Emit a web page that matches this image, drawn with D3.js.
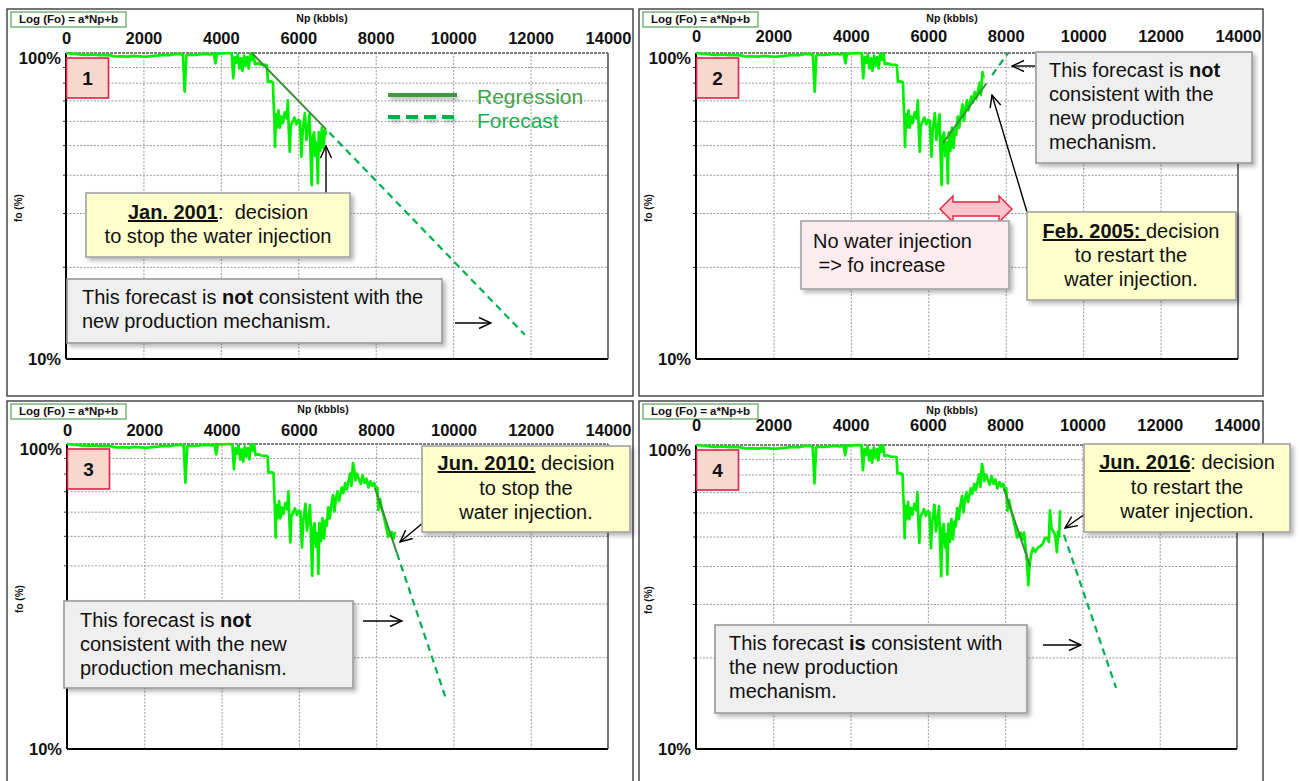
<!DOCTYPE html>
<html>
<head>
<meta charset="utf-8">
<script src="https://cdn.jsdelivr.net/npm/d3@7"></script>
<style>
  body { margin: 0; background: #fff; }
  svg { display: block; font-family: "Liberation Sans", Arial, sans-serif; }
</style>
</head>
<body>
<svg id="chart" width="1300" height="781"></svg>
<script>
// Cumulative oil production Np (kbbls) and oil fraction fo (%)
const npValues = [
  0, 120, 250, 400, 550, 700, 850, 1000, 1150, 1280, 1450, 1600, 1750, 1900, 2050, 2200, 2350, 2500, 2650, 2800,
  2950, 3020, 3065, 3110, 3200, 3320, 3450, 3600, 3720, 3820, 3860, 3900, 4050, 4200, 4280, 4320, 4360, 4400, 4440, 4480,
  4520, 4560, 4600, 4640, 4680, 4720, 4760, 4800, 4840, 4880, 4950, 5050, 5150, 5190, 5215, 5300, 5345, 5360, 5380, 5400,
  5420, 5445, 5465, 5490, 5520, 5560, 5600, 5650, 5700, 5730, 5755, 5780, 5805, 5850, 5900, 5950, 6000, 6040, 6080, 6115,
  6170, 6210, 6250, 6290, 6320, 6345, 6370, 6410, 6440, 6480, 6505, 6530, 6570, 6610, 6650, 6690, 6720, 6760, 6800, 6840,
  6885, 6920, 6960, 7000, 7040, 7080, 7110, 7150, 7200, 7240, 7290, 7330, 7360, 7400, 7430, 7460, 7500, 7550, 7600, 7650,
  7700, 7750, 7800, 7850, 7900, 7950, 8000, 8030, 8060, 8100, 8150, 8200, 8230, 8280, 8310, 8350, 8400, 8450, 8490, 8530,
  8566, 8600, 8630, 8670, 8720, 8780, 8850, 8920, 8980, 9030, 9100, 9130, 9160, 9200, 9250, 9300, 9340, 9370, 9400, 9420
];
const foValues = [
  100, 99.6, 99.3, 98.8, 98.6, 98.9, 98.4, 98.6, 98.2, 97.4, 97.6, 97.3, 97.8, 97.5, 97.2, 97.7, 98.0, 98.6, 98.3, 99.2,
  99.4, 98.6, 74.7, 98.3, 98.8, 98.5, 99.0, 99.3, 98.9, 99.5, 92.5, 99.6, 99.7, 100, 99.5, 82.7, 97, 93, 99, 89,
  96, 87.5, 98, 91, 97, 89, 99.6, 95, 99.8, 92, 92.5, 91.5, 91.5, 91, 80.6, 80.8, 80.2, 70, 62, 49.4,
  63, 57, 61, 65, 57, 62, 59, 64, 61, 70, 56, 47.6, 58, 59.5, 61.5, 58.5, 60.5, 60, 45.8, 56,
  63.6, 52, 57, 63, 46, 37, 53, 55, 46, 51, 37.5, 55, 48, 57, 49, 56, 54, 62, 57, 63,
  68, 60, 66, 70, 65, 69, 72, 69, 74.5, 71, 76, 80, 73, 86.6, 83, 76, 80, 77, 74, 79,
  74.5, 77, 72, 75.5, 73, 74.5, 70, 72, 60.8, 66, 61, 58, 55.5, 52, 49.6, 50.5, 51.5, 49, 51.5, 46,
  41.2, 34.6, 40, 43.5, 45.8, 44.5, 46, 46.5, 47.5, 49.4, 49.4, 48, 61, 53, 52, 50, 44.4, 52, 50, 61
];

// Last Np shown in each of the four snapshots
const panelEndNp = [6720, 7430, 8490, 9420];
const panelNumbers = ["1", "2", "3", "4"];

// Regression segments (solid) and forecasts (dashed): [start, end]
const regressionNp = [[4800, 6720], [6380, 7500], [7970, 8540], [7970, 8650]];
const regressionFo = [[100, 56.3], [50.8, 79.5], [71.7, 43.8], [71.7, 39.8]];
const forecastNp = [[6800, 11850], [7650, 8060], [8540, 9808], [9523, 10869]];
const forecastFo = [[55.0, 12.0], [84.7, 100], [43.8, 14.6], [50.6, 15.9]];

// Axis ticks
const xTickValues = [0, 2000, 4000, 6000, 8000, 10000, 12000, 14000];
const yGridValues = [20, 30, 40, 50, 60, 70, 80, 90];
const yLabelValues = [100, 10];
const yLabelTexts = ["100%", "10%"];

const legendLabels = ["Regression", "Forecast"];

// ---------------------------------------------------------------
const svg = d3.select("#chart");
const defs = svg.append("defs");

defs.append("filter").attr("id", "shadow")
  .attr("x", "-10%").attr("y", "-10%").attr("width", "130%").attr("height", "140%")
  .append("feDropShadow")
  .attr("dx", 3).attr("dy", 3).attr("stdDeviation", 2.2)
  .attr("flood-color", "#000").attr("flood-opacity", 0.28);

defs.append("filter").attr("id", "softShadow")
  .attr("x", "-20%").attr("y", "-50%").attr("width", "150%").attr("height", "250%")
  .append("feDropShadow")
  .attr("dx", 2).attr("dy", 3).attr("stdDeviation", 2)
  .attr("flood-color", "#000").attr("flood-opacity", 0.3);

defs.append("marker").attr("id", "head")
  .attr("viewBox", "0 0 14 14").attr("refX", 13).attr("refY", 7)
  .attr("markerWidth", 14).attr("markerHeight", 14)
  .attr("markerUnits", "userSpaceOnUse").attr("orient", "auto")
  .append("path").attr("d", "M1,1.5 L13,7 L1,12.5")
  .attr("fill", "none").attr("stroke", "#000").attr("stroke-width", 1.4);

const panels = [
  { frame: [7, 9, 626, 387],   plot: [66, 53, 542, 306],  labelPad: 9 },
  { frame: [639, 9, 624, 387], plot: [696, 53, 542, 306], labelPad: 11 },
  { frame: [7, 401, 626, 395], plot: [67, 444, 541, 305], labelPad: 8 },
  { frame: [639, 401, 624, 395], plot: [696, 445, 541, 304], labelPad: 14 }
];

const dataPoints = npValues.map((np, i) => ({ np, fo: foValues[i] }));

panels.forEach((p, k) => {
  const [fx, fy, fw, fh] = p.frame;
  const [px, py, pw, ph] = p.plot;
  const g = svg.append("g");

  // panel frame
  g.append("rect").attr("x", fx).attr("y", fy).attr("width", fw).attr("height", fh)
    .attr("fill", "#fff").attr("stroke", "#3c3c3c").attr("stroke-width", 1.4);

  // equation box
  g.append("rect").attr("x", fx + 4).attr("y", fy + 3).attr("width", 115).attr("height", 15)
    .attr("fill", "#fff").attr("stroke", "#6fb06f").attr("stroke-width", 1.4);
  g.append("text").attr("x", fx + 61.5).attr("y", fy + 14).attr("text-anchor", "middle")
    .attr("font-size", 11.5).attr("font-weight", "bold").attr("fill", "#111")
    .text("Log (Fo) = a*Np+b");

  const x = d3.scaleLinear().domain([0, 14000]).range([px, px + pw]);
  const y = d3.scaleLog().domain([10, 100]).range([py + ph, py]);

  // axis titles
  g.append("text").attr("x", px + 256).attr("y", py - 31).attr("text-anchor", "middle")
    .attr("font-size", 10.5).attr("font-weight", "bold").attr("fill", "#111").text("Np (kbbls)");
  g.append("text").attr("transform", `translate(${px - 44},${py + 155}) rotate(-90)`)
    .attr("text-anchor", "middle").attr("font-size", 10).attr("font-weight", "bold")
    .attr("fill", "#111").text("fo (%)");

  // vertical grid
  const vGrid = g.append("g").attr("transform", `translate(0,${py + ph})`)
    .call(d3.axisBottom(x).tickValues(xTickValues.slice(1, -1)).tickSize(-ph).tickFormat(""));
  vGrid.select(".domain").remove();
  vGrid.selectAll("line").attr("stroke", "#9a9a9a").attr("stroke-dasharray", "2,1.5");

  // horizontal grid
  const hGrid = g.append("g").attr("transform", `translate(${px},0)`)
    .call(d3.axisLeft(y).tickValues(yGridValues).tickSize(-pw).tickFormat(""));
  hGrid.select(".domain").remove();
  hGrid.selectAll("line").attr("stroke", "#9a9a9a").attr("stroke-dasharray", "2,1.5");

  // small left ticks
  const lt = g.append("g").attr("transform", `translate(${px},0)`)
    .call(d3.axisLeft(y).tickValues(yGridValues).tickSize(3).tickFormat(""));
  lt.select(".domain").remove();
  lt.selectAll("line").attr("stroke", "#333");

  // plot border: top/right in dark grey, left/bottom black
  g.append("line").attr("x1", px).attr("x2", px + pw).attr("y1", py).attr("y2", py)
    .attr("stroke", "#555").attr("stroke-width", 1.6).attr("stroke-dasharray", "3,1");
  g.append("line").attr("x1", px + pw).attr("x2", px + pw).attr("y1", py).attr("y2", py + ph)
    .attr("stroke", "#555").attr("stroke-width", 1.6);
  g.append("line").attr("x1", px).attr("x2", px).attr("y1", py).attr("y2", py + ph)
    .attr("stroke", "#000").attr("stroke-width", 2);
  g.append("line").attr("x1", px).attr("x2", px + pw).attr("y1", py + ph).attr("y2", py + ph)
    .attr("stroke", "#000").attr("stroke-width", 2);

  // x tick labels on top
  const xa = g.append("g").attr("transform", `translate(0,${py})`)
    .call(d3.axisTop(x).tickValues(xTickValues).tickSize(0).tickPadding(p.labelPad).tickFormat(d3.format("d")));
  xa.select(".domain").remove();
  xa.selectAll("text").attr("font-size", 16.5).attr("font-weight", "bold").attr("fill", "#111")
    .attr("font-family", "Liberation Sans, Arial, sans-serif");

  // y labels
  const ya = g.append("g").attr("transform", `translate(${px},0)`)
    .call(d3.axisLeft(y).tickValues(yLabelValues).tickSize(0).tickPadding(5)
      .tickFormat((d, i) => yLabelTexts[i]));
  ya.select(".domain").remove();
  ya.selectAll("text").attr("font-size", 16.5).attr("font-weight", "bold").attr("fill", "#111")
    .attr("font-family", "Liberation Sans, Arial, sans-serif")
    .attr("dy", d => d === 100 ? "10px" : "5px");

  // production data
  const pts = dataPoints.filter(d => d.np <= panelEndNp[k]);
  const line = d3.line().x(d => x(d.np)).y(d => y(d.fo));
  g.append("path").datum(pts).attr("d", line)
    .attr("fill", "none").attr("stroke", "#00f000").attr("stroke-width", 2.7)
    .attr("stroke-linejoin", "round");

  // regression and forecast
  const reg = regressionNp[k].map((n, i) => ({ np: n, fo: regressionFo[k][i] }));
  g.append("path").datum(reg).attr("d", line)
    .attr("fill", "none").attr("stroke", "#3a8f3a").attr("stroke-width", 2);
  const fc = forecastNp[k].map((n, i) => ({ np: n, fo: forecastFo[k][i] }));
  g.append("path").datum(fc).attr("d", line)
    .attr("fill", "none").attr("stroke", "#00b050").attr("stroke-width", 2.2)
    .attr("stroke-dasharray", "7,5");

  // panel number
  g.append("rect").attr("x", px + 0.5).attr("y", py + 5).attr("width", 42).attr("height", 40)
    .attr("fill", "#f8d8cd").attr("stroke", "#e0204a").attr("stroke-width", 1.6);
  g.append("text").attr("x", px + 21.5).attr("y", py + 32).attr("text-anchor", "middle")
    .attr("font-size", 19).attr("font-weight", "bold").attr("fill", "#111").text(panelNumbers[k]);
});

// ---------------------------------------------------------------
// annotations
const ann = svg.append("g");

function box(x, y, w, h, fill, stroke) {
  ann.append("rect").attr("x", x).attr("y", y).attr("width", w).attr("height", h)
    .attr("fill", fill).attr("stroke", stroke || "#a3a3a3").attr("stroke-width", 1.6)
    .attr("filter", "url(#shadow)");
}
function textLine(x, y, anchor, segs) {
  const t = ann.append("text").attr("x", x).attr("y", y).attr("text-anchor", anchor)
    .attr("font-size", 20).attr("fill", "#111").style("white-space", "pre");
  segs.forEach(s => {
    const ts = t.append("tspan").text(s.t);
    if (s.b) ts.attr("font-weight", "bold");
    if (s.u) ts.attr("text-decoration", "underline");
  });
}
function arrow(x1, y1, x2, y2) {
  ann.append("line").attr("x1", x1).attr("y1", y1).attr("x2", x2).attr("y2", y2)
    .attr("stroke", "#000").attr("stroke-width", 1.4).attr("marker-end", "url(#head)");
}

// legend (panel 1)
const lg = ann.append("g").attr("filter", "url(#softShadow)");
lg.append("line").attr("x1", 388).attr("x2", 457).attr("y1", 95).attr("y2", 95)
  .attr("stroke", "#3d9b3d").attr("stroke-width", 4);
lg.append("line").attr("x1", 388).attr("x2", 457).attr("y1", 117).attr("y2", 117)
  .attr("stroke", "#00b050").attr("stroke-width", 4).attr("stroke-dasharray", "12,6");
ann.append("text").attr("x", 477).attr("y", 104).attr("font-size", 21).attr("fill", "#43a347").text(legendLabels[0]);
ann.append("text").attr("x", 477).attr("y", 128).attr("font-size", 21).attr("fill", "#16b04c").text(legendLabels[1]);

// panel 1
arrow(326, 193, 326, 146);
box(86, 193, 264, 64, "#ffffcc");
textLine(218, 219, "middle", [{ t: "Jan. 2001", b: 1, u: 1 }, { t: ":  decision" }]);
textLine(218, 243, "middle", [{ t: "to stop the water injection" }]);
box(67, 279, 375, 64, "#efefef", "#9a9a9a");
textLine(82, 304, "start", [{ t: "This forecast is " }, { t: "not", b: 1 }, { t: " consistent with the" }]);
textLine(82, 328, "start", [{ t: "new production mechanism." }]);
arrow(455, 323, 491, 323);

// panel 2
ann.append("path")
  .attr("d", "M940,209 L953,196 L953,202 L999,202 L999,196 L1012,209 L999,222 L999,216 L953,216 L953,222 Z")
  .attr("fill", "#ffc4cc").attr("stroke", "#e8203c").attr("stroke-width", 1.4);
box(801, 221, 208, 68, "#fdecef");
textLine(813, 248, "start", [{ t: "No water injection" }]);
textLine(813, 272, "start", [{ t: " => fo increase" }]);
arrow(1027, 212, 992, 95);
box(1027, 212, 209, 88, "#ffffcc");
textLine(1131, 238, "middle", [{ t: "Feb. 2005: ", b: 1, u: 1 }, { t: "decision" }]);
textLine(1131, 262, "middle", [{ t: "to restart the" }]);
textLine(1131, 286, "middle", [{ t: "water injection." }]);
box(1036, 52, 216, 111, "#efefef", "#9a9a9a");
textLine(1049, 77, "start", [{ t: "This forecast is " }, { t: "not", b: 1 }]);
textLine(1049, 101, "start", [{ t: "consistent with the" }]);
textLine(1049, 125, "start", [{ t: "new production" }]);
textLine(1049, 149, "start", [{ t: "mechanism." }]);
arrow(1035, 66, 1012, 66);

// panel 3
arrow(442, 507, 400, 542);
box(422, 446, 208, 86, "#ffffcc");
textLine(526, 470, "middle", [{ t: "Jun. 2010:", b: 1, u: 1 }, { t: " decision" }]);
textLine(526, 495, "middle", [{ t: "to stop the" }]);
textLine(526, 519, "middle", [{ t: "water injection." }]);
box(64, 601, 289, 87, "#efefef", "#9a9a9a");
textLine(80, 627, "start", [{ t: "This forecast is " }, { t: "not", b: 1 }]);
textLine(80, 651, "start", [{ t: "consistent with the new" }]);
textLine(80, 675, "start", [{ t: "production mechanism." }]);
arrow(363, 621, 402, 621);

// panel 4
arrow(1095, 507, 1065, 528);
box(1084, 444, 206, 88, "#ffffcc");
textLine(1187, 469, "middle", [{ t: "Jun. 2016", b: 1, u: 1 }, { t: ": decision" }]);
textLine(1187, 494, "middle", [{ t: "to restart the" }]);
textLine(1187, 518, "middle", [{ t: "water injection." }]);
box(715, 625, 312, 88, "#efefef", "#9a9a9a");
textLine(729, 650, "start", [{ t: "This forecast " }, { t: "is", b: 1 }, { t: " consistent with" }]);
textLine(729, 674, "start", [{ t: "the new production" }]);
textLine(729, 698, "start", [{ t: "mechanism." }]);
arrow(1043, 645, 1081, 645);
</script>
</body>
</html>
